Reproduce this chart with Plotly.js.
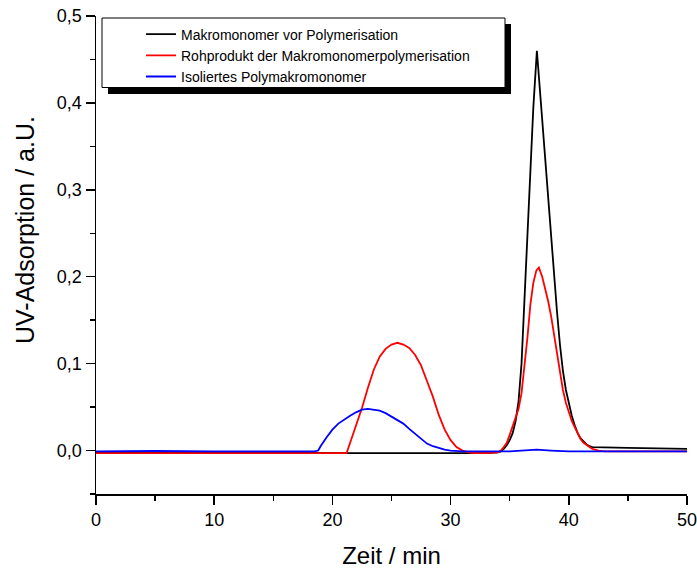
<!DOCTYPE html>
<html>
<head>
<meta charset="utf-8">
<script src="https://cdn.plot.ly/plotly-3.0.1.min.js"></script>
<style>html,body{margin:0;padding:0;background:#fff;}#chart{width:697px;height:572px;}</style>
</head>
<body>
<div id="chart"></div>
<script>
// Series names
const seriesNames = ["Makromonomer vor Polymerisation", "Rohprodukt der Makromonomerpolymerisation", "Isoliertes Polymakromonomer"];

// Black: Makromonomer vor Polymerisation (time in min, absorbance)
const blackX = [0, 5, 10, 15, 20, 25, 30, 33, 34.0, 34.25, 34.5, 34.75, 35.0, 35.25, 35.5, 35.75, 36.0, 36.25, 36.5, 36.75, 37.0, 37.3, 37.5, 37.75, 38.0, 38.25, 38.5, 38.75, 39.0, 39.25, 39.5, 39.75, 40.0, 40.25, 40.5, 40.75, 41.0, 41.25, 41.5, 41.75, 42.0, 45, 50];
const blackY = [-0.002, -0.002, -0.002, -0.002, -0.003, -0.003, -0.003, -0.003, -0.002, -0.001, 0.002, 0.006, 0.012, 0.02, 0.034, 0.057, 0.10, 0.17, 0.25, 0.325, 0.395, 0.46, 0.424, 0.378, 0.333, 0.288, 0.242, 0.2, 0.16, 0.122, 0.092, 0.07, 0.054, 0.04, 0.029, 0.02, 0.014, 0.01, 0.007, 0.005, 0.004, 0.003, 0.002];

// Red: Rohprodukt der Makromonomerpolymerisation
const redX = [0, 5, 10, 15, 20, 21.0, 21.2, 21.5, 22.0, 22.5, 23.0, 23.5, 24.0, 24.5, 25.0, 25.5, 26.0, 26.5, 27.0, 27.5, 28.0, 28.5, 29.0, 29.5, 30.0, 30.5, 31.0, 31.5, 32.0, 33.0, 34.0, 34.25, 34.5, 34.75, 35.0, 35.25, 35.5, 35.75, 36.0, 36.25, 36.5, 36.75, 37.0, 37.25, 37.47, 37.75, 38.0, 38.25, 38.5, 38.75, 39.0, 39.25, 39.5, 39.75, 40.0, 40.25, 40.5, 40.75, 41.0, 41.25, 41.5, 41.75, 42.0, 42.5, 43, 45, 50];
const redY = [-0.003, -0.003, -0.003, -0.003, -0.003, -0.003, -0.003, 0.009, 0.029, 0.049, 0.072, 0.093, 0.108, 0.117, 0.122, 0.124, 0.122, 0.118, 0.11, 0.098, 0.08, 0.062, 0.041, 0.024, 0.012, 0.004, 0.0, -0.002, -0.003, -0.003, -0.002, 0.0, 0.004, 0.009, 0.018, 0.028, 0.038, 0.048, 0.066, 0.095, 0.13, 0.168, 0.193, 0.207, 0.2105, 0.2, 0.187, 0.172, 0.155, 0.133, 0.112, 0.09, 0.07, 0.055, 0.043, 0.034, 0.027, 0.02, 0.013, 0.009, 0.006, 0.004, 0.002, 0.0, -0.001, -0.001, -0.001];

// Blue: Isoliertes Polymakromonomer
const blueX = [0, 5, 10, 15, 18.5, 18.8, 19.0, 19.5, 20.0, 20.5, 21.0, 21.5, 22.0, 22.5, 23.0, 23.5, 24.0, 24.5, 25.0, 25.5, 26.0, 26.5, 27.0, 27.5, 28.0, 28.5, 29.0, 29.5, 30.0, 31.0, 35, 36.5, 37.3, 38.5, 40, 45, 50];
const blueY = [-0.001, -0.0005, -0.001, -0.001, -0.001, 0.0, 0.005, 0.015, 0.024, 0.031, 0.036, 0.040, 0.044, 0.047, 0.048, 0.047, 0.046, 0.043, 0.039, 0.035, 0.031, 0.025, 0.019, 0.013, 0.008, 0.005, 0.003, 0.001, 0.0, -0.001, -0.001, 0.0, 0.001, 0.0, -0.001, -0.001, -0.001];

const xTitle = "Zeit / min";
const yTitle = "UV-Adsorption / a.U.";

const FONT = "Arial, 'Liberation Sans', sans-serif";
const L = 96, R = 687, T = 16, B = 494, W = 697, H = 572;
const px2x = p => (p - L) / (R - L);
const py2y = p => (B - p) / (B - T);

const traces = [
  {x: blackX, y: blackY, name: seriesNames[0], mode: "lines", line: {color: "#000000", width: 1.8}},
  {x: redX, y: redY, name: seriesNames[1], mode: "lines", line: {color: "#ff0000", width: 1.8}},
  {x: blueX, y: blueY, name: seriesNames[2], mode: "lines", line: {color: "#0000ff", width: 1.8}}
];

const layout = {
  width: W, height: H,
  margin: {l: L, r: W - R, t: T, b: H - B, pad: 0},
  paper_bgcolor: "#fff", plot_bgcolor: "#fff",
  separators: ", ",
  font: {family: FONT, color: "#000"},
  showlegend: true,
  legend: {
    x: px2x(141), y: py2y(18.5), xanchor: "left", yanchor: "top",
    bgcolor: "rgba(0,0,0,0)", borderwidth: 0,
    font: {family: FONT, size: 14, color: "#000"},
    tracegroupgap: 0
  },
  xaxis: {
    range: [0, 50], tick0: 0, dtick: 10,
    showline: true, linecolor: "#000", linewidth: 1.5,
    showgrid: false, zeroline: false,
    ticks: "outside", ticklen: 9, tickwidth: 1.5, tickcolor: "#000",
    ticklabeloverflow: "allow",
    minor: {dtick: 5, ticks: "outside", ticklen: 5, tickwidth: 1.5, tickcolor: "#000", showgrid: false},
    tickfont: {family: FONT, size: 18, color: "#000"},
    title: {text: xTitle, font: {family: FONT, size: 24, color: "#000"}, standoff: 18},
    fixedrange: true
  },
  yaxis: {
    range: [-0.05, 0.5], tick0: 0, dtick: 0.1, tickformat: ".1f",
    showline: true, linecolor: "#000", linewidth: 1.5,
    showgrid: false, zeroline: false,
    ticks: "outside", ticklen: 9, tickwidth: 1.5, tickcolor: "#000",
    minor: {dtick: 0.05, ticks: "outside", ticklen: 5, tickwidth: 1.5, tickcolor: "#000", showgrid: false},
    tickfont: {family: FONT, size: 18, color: "#000"},
    fixedrange: true
  },
  annotations: [{
    text: yTitle, xref: "paper", yref: "paper",
    x: px2x(25), y: py2y(230), xanchor: "center", yanchor: "middle",
    textangle: -90, showarrow: false,
    font: {family: FONT, size: 25, color: "#000"}
  }],
  shapes: [
    {type: "rect", xref: "paper", yref: "paper", layer: "above",
     x0: px2x(108), x1: px2x(511), y0: py2y(94), y1: py2y(24),
     fillcolor: "#000", line: {width: 0}},
    {type: "rect", xref: "paper", yref: "paper", layer: "above",
     x0: px2x(102), x1: px2x(505), y0: py2y(87.5), y1: py2y(18),
     fillcolor: "#fff", line: {color: "#000", width: 1}}
  ]
};

Plotly.newPlot("chart", traces, layout, {displayModeBar: false, staticPlot: true});
</script>
</body>
</html>
